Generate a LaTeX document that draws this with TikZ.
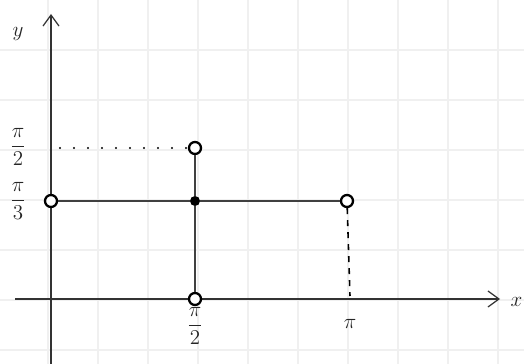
\documentclass[tikz,border=0pt]{standalone}
\usepackage{amsmath}
\usetikzlibrary{arrows.meta}
\begin{document}
\begin{tikzpicture}[
    gridline/.style={draw=black!6, line width=0.6pt},
    axis/.style={line width=0.7pt, draw=black!80, -{Straight Barb[length=2.2mm, width=3.2mm]}},
    edge/.style={line width=0.9pt, draw=black!75},
    opendot/.style={circle, draw, fill=white, line width=1.3pt, inner sep=0pt, minimum size=2.4mm},
    fulldot/.style={circle, fill=black, inner sep=0pt, minimum size=2mm},
    lbl/.style={font=\large, text=black!85}
]
\useasboundingbox (0,0) rectangle (10.48,7.28);
\fill[white] (0,0) rectangle (10.48,7.28);

\foreach \x in {0,...,9}
    \draw[gridline] (0.96+\x,0) -- (0.96+\x,7.28);
\foreach \y in {0,...,6}
    \draw[gridline] (0,0.28+\y) -- (10.48,0.28+\y);

\coordinate (xs) at (0.3,1.3);
\coordinate (xe) at (10.0,1.3);
\coordinate (ys) at (1.02,-0.1);
\coordinate (ye) at (1.02,7.0);
\draw[axis] (xs) -- (xe);
\draw[axis] (ys) -- (ye);
\node[lbl, inner sep=1pt] (xlab) at (10.33,1.24) {$x$};
\node[lbl] (ylab) at (0.36,6.6) {$y$};

\node[opendot] (top) at (3.9,4.32) {};
\node[fulldot] (mid) at (3.9,3.26) {};
\node[opendot] (bot) at (3.9,1.3) {};
\node[opendot] (left) at (1.02,3.26) {};
\node[opendot] (right) at (6.94,3.26) {};
\coordinate (dotstart) at (1.2,4.32);
\coordinate (dashend) at (7.0,1.36);

\draw[edge] (left) -- (mid);
\draw[edge] (mid) -- (right);
\draw[edge] (top) -- (mid);
\draw[edge] (mid) -- (bot);
\draw[line width=1.4pt, line cap=round, dash pattern=on 0pt off 2.8mm] (dotstart) -- (top);
\draw[line width=0.9pt, dash pattern=on 1.2mm off 1.2mm] (right) -- (dashend);

\node[lbl] (ly2) at (0.36,4.34) {$\dfrac{\pi}{2}$};
\node[lbl] (ly3) at (0.36,3.26) {$\dfrac{\pi}{3}$};
\node[lbl] (lx2) at (3.9,0.76) {$\dfrac{\pi}{2}$};
\node[lbl] (lxpi) at (7.0,0.8) {$\pi$};

\end{tikzpicture}
\end{document}
